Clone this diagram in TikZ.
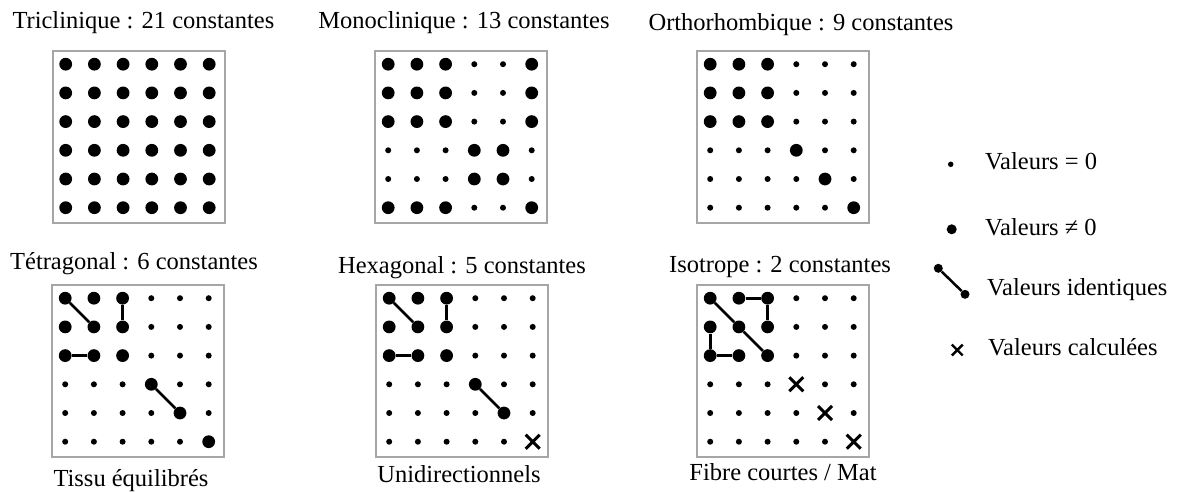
\documentclass[tikz,border=0pt]{standalone}
\usepackage{fontspec}
\setmainfont{Liberation Serif}
\usetikzlibrary{shapes.misc}
\newcommand\drawmat[4]{%
  \node[frame, minimum size=172pt, anchor=north west] (#1) at (#2,#3) {};
  \foreach \row [count=\r] in {#4} {
    \foreach \typ [count=\c] in \row {
      \if\typ L
        \node[big] (#1-\r-\c) at ({#2+14.2+28.7*(\c-1)},{#3+14.2+28.7*(\r-1)}) {};
      \else\if\typ X
        \node[crs] (#1-\r-\c) at ({#2+14.2+28.7*(\c-1)},{#3+14.2+28.7*(\r-1)}) {};
      \else
        \node[sml] (#1-\r-\c) at ({#2+14.2+28.7*(\c-1)},{#3+14.2+28.7*(\r-1)}) {};
      \fi\fi
    }
  }
}
\begin{document}
\begin{tikzpicture}[x=1pt,y=-1pt,
  big/.style={circle,fill=black,inner sep=0pt,minimum size=12.8pt},
  sml/.style={circle,fill=black,inner sep=0pt,minimum size=6pt},
  crs/.style={cross out,draw=black,line width=3pt,inner sep=0pt,minimum size=11pt},
  frame/.style={draw=black!35,line width=2pt,inner sep=0pt},
  link/.style={draw=black,line width=2.8pt},
  lbl/.style={font=\fontsize{24.5}{28}\selectfont,inner sep=0pt,anchor=base}]
\useasboundingbox (0,0) rectangle (1181,491);

% matrices
\drawmat{ma}{51.5}{50}{{L,L,L,L,L,L},{L,L,L,L,L,L},{L,L,L,L,L,L},{L,L,L,L,L,L},{L,L,L,L,L,L},{L,L,L,L,L,L}}
\drawmat{mb}{374}{50}{{L,L,L,s,s,L},{L,L,L,s,s,L},{L,L,L,s,s,L},{s,s,s,L,L,s},{s,s,s,L,L,s},{L,L,L,s,s,L}}
\drawmat{mc}{696}{50}{{L,L,L,s,s,s},{L,L,L,s,s,s},{L,L,L,s,s,s},{s,s,s,L,s,s},{s,s,s,s,L,s},{s,s,s,s,s,L}}
\drawmat{md}{51}{284}{{L,L,L,s,s,s},{L,L,L,s,s,s},{L,L,L,s,s,s},{s,s,s,L,s,s},{s,s,s,s,L,s},{s,s,s,s,s,L}}
\drawmat{me}{375}{284}{{L,L,L,s,s,s},{L,L,L,s,s,s},{L,L,L,s,s,s},{s,s,s,L,s,s},{s,s,s,s,L,s},{s,s,s,s,s,X}}
\drawmat{mf}{696}{284}{{L,L,L,s,s,s},{L,L,L,s,s,s},{L,L,L,s,s,s},{s,s,s,X,s,s},{s,s,s,s,X,s},{s,s,s,s,s,X}}

% identical-value links
\draw[link] (md-1-1) -- (md-2-2);
\draw[link] (md-1-3) -- (md-2-3);
\draw[link] (md-3-1) -- (md-3-2);
\draw[link] (md-4-4) -- (md-5-5);
\draw[link] (me-1-1) -- (me-2-2);
\draw[link] (me-1-3) -- (me-2-3);
\draw[link] (me-3-1) -- (me-3-2);
\draw[link] (me-4-4) -- (me-5-5);
\draw[link] (mf-1-1) -- (mf-2-2) -- (mf-3-3);
\draw[link] (mf-1-2) -- (mf-1-3);
\draw[link] (mf-1-3) -- (mf-2-3);
\draw[link] (mf-2-1) -- (mf-3-1);
\draw[link] (mf-3-1) -- (mf-3-2);

% titles
\node[lbl] (ta) at (143.4,28) {Triclinique : 21 constantes};
\node[lbl] (tb) at (464,28) {Monoclinique : 13 constantes};
\node[lbl] (tc) at (801,30) {Orthorhombique : 9 constantes};
\node[lbl] (td) at (134,269) {Tétragonal : 6 constantes};
\node[lbl] (te) at (462,273) {Hexagonal : 5 constantes};
\node[lbl] (tf) at (780,272) {Isotrope : 2 constantes};

% captions
\node[lbl] (cd) at (131,486) {Tissu équilibrés};
\node[lbl] (ce) at (459,482) {Unidirectionnels};
\node[lbl] (cf) at (783,480) {Fibre courtes / Mat};

% legend
\node[sml, minimum size=5.5pt] (l1) at (950.7,164.3) {};
\node[lbl, anchor=base west] (t1) at (985,169.5) {Valeurs = 0};
\node[big, minimum size=10pt] (l2) at (951.7,229.3) {};
\node[lbl, anchor=base west] (t2) at (985,235) {Valeurs ≠ 0};
\node[big, minimum size=9pt] (l3a) at (938.3,268.3) {};
\node[big, minimum size=9pt] (l3b) at (965,294.3) {};
\draw[link, line width=2.5pt] (l3a) -- (l3b);
\node[lbl, anchor=base west] (t3) at (987,295) {Valeurs identiques};
\node[crs, minimum size=8.5pt, line width=2.4pt] (l4) at (957.3,350) {};
\node[lbl, anchor=base west] (t4) at (988,355) {Valeurs calculées};
\end{tikzpicture}
\end{document}
